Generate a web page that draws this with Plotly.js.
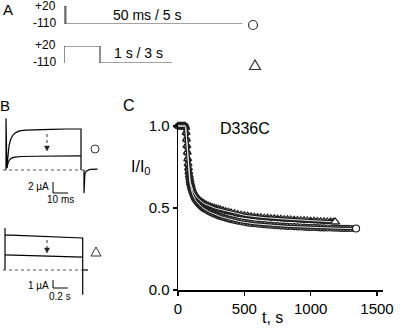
<!DOCTYPE html>
<html><head><meta charset="utf-8">
<script src="https://cdn.plot.ly/plotly-3.0.1.min.js"></script>
<style>html,body{margin:0;padding:0;background:#fff}#chart{width:400px;height:330px}</style>
</head><body><div id="chart"></div>
<script>
// ---------- Panel A: voltage protocols (time in s, voltage in mV) ----------
const protoLevels = ['+20', '-110'];
const proto1T = [0, 0, 0.05, 0.05, 4.95];
const proto1V = [-110, 20, 20, -110, -110];
const proto2T = [0, 0, 1, 1, 3];
const proto2V = [-110, 20, 20, -110, -110];

// ---------- Panel B top: currents, 50 ms pulse (time ms, current µA) ----------
const bTopT1 = [0, 0, 0.6, 1.2, 2, 3, 4.5, 6.5, 9, 13, 20, 30, 40, 50, 50];
const bTopI1 = [0, 9.4, 0.4, 2.8, 4.4, 5.5, 6.3, 6.8, 7.1, 7.25, 7.35, 7.4, 7.45, 7.45, 0];
const bTopT2 = [0.6, 1.5, 2.5, 4, 6, 10, 20, 35, 50];
const bTopI2 = [0.4, 1.4, 1.9, 2.2, 2.35, 2.45, 2.5, 2.55, 2.55];
const bTailT = [52, 52, 52.6, 53.5, 56, 61];
const bTailI = [0, -4.2, -0.7, -0.2, 0.1, 0.15];
const bTopScaleI = 2;   // µA
const bTopScaleT = 10;  // ms

// ---------- Panel B bottom: currents, 1 s pulse (time s, current µA) ----------
const bBotT1 = [0, 0, 0, 1.05, 1.05];
const bBotI1 = [0, 5.25, 4.4, 4.0, -3.1];
const bBotT2 = [0, 1.05];
const bBotI2 = [1.9, 1.6];
const bBotTailT = [1.05, 1.12];
const bBotTailI = [0, 0];
const bBotScaleI = 1;    // µA
const bBotScaleT = 0.2;  // s

// ---------- Panel C: normalized current vs time ----------
const triT = [0,5,10,15,20,25,30,35,40,45,50,55,58,61,64,67,70,73,76,79,82,85,88,91,94,97,100,106,112,118,124,130,140,150,160,170,180,190,200,215,230,245,260,275,290,305,320,340,360,380,400,425,450,475,500,525,550,575,600,625,650,675,700,725,750,775,800,825,850,875,900,925,950,975,1000,1025,1050,1075,1100,1125,1150,1170,1184];
const triY = [1,1,1,1,1,1,1,1,1,1,1,1,0.99,0.96,0.92,0.88,0.84,0.80,0.77,0.745,0.72,0.70,0.685,0.67,0.655,0.645,0.635,0.62,0.605,0.595,0.585,0.578,0.567,0.558,0.55,0.543,0.537,0.531,0.526,0.52,0.514,0.509,0.505,0.501,0.497,0.494,0.491,0.486,0.481,0.477,0.473,0.468,0.463,0.459,0.456,0.453,0.45,0.447,0.445,0.443,0.441,0.44,0.438,0.437,0.435,0.434,0.432,0.431,0.43,0.429,0.427,0.426,0.425,0.424,0.423,0.422,0.421,0.42,0.419,0.418,0.417,0.416,0.415];
const cirT = [0,5,10,15,20,25,30,35,40,45,50,55,58,61,64,67,70,73,76,79,82,85,88,91,94,97,100,106,112,118,124,130,140,150,160,170,180,190,200,215,230,245,260,275,290,305,320,340,360,380,400,425,450,475,500,525,550,575,600,625,650,675,700,725,750,775,800,825,850,875,900,925,950,975,1000,1025,1050,1075,1100,1125,1150,1175,1200,1225,1250,1275,1300,1325,1342];
const cirY = [1,1,1,1,1,1,1,1,1,1,1,1,0.99,0.955,0.915,0.875,0.835,0.795,0.76,0.73,0.705,0.685,0.665,0.65,0.636,0.624,0.613,0.597,0.582,0.57,0.56,0.551,0.539,0.529,0.52,0.512,0.505,0.499,0.493,0.486,0.479,0.473,0.467,0.462,0.457,0.452,0.448,0.443,0.438,0.433,0.429,0.424,0.42,0.416,0.412,0.409,0.406,0.404,0.402,0.4,0.398,0.396,0.395,0.393,0.392,0.39,0.389,0.388,0.387,0.386,0.385,0.384,0.383,0.382,0.381,0.381,0.38,0.379,0.379,0.378,0.378,0.377,0.377,0.376,0.376,0.376,0.375,0.375,0.375];
const cTickVals = [0, 0.5, 1];
const cTickText = ['0.0', '0.5', '1.0'];
const xTickVals = [0, 500, 1000, 1500];

const FONT = 'Liberation Sans, Arial, sans-serif';
const X = p => p / 400;
const Y = p => (330 - p) / 330;
const blk = {color: '#000', width: 1.2};

const traces = [
  {x: proto1T, y: proto1V, xaxis: 'x5', yaxis: 'y5', mode: 'lines', line: {color: '#444', width: 1.2}},
  {x: proto2T, y: proto2V, xaxis: 'x6', yaxis: 'y6', mode: 'lines', line: {color: '#444', width: 1.2}},
  {x: bTopT1, y: bTopI1, xaxis: 'x3', yaxis: 'y3', mode: 'lines', line: blk},
  {x: bTopT2, y: bTopI2, xaxis: 'x3', yaxis: 'y3', mode: 'lines', line: blk},
  {x: bTailT, y: bTailI, xaxis: 'x3', yaxis: 'y3', mode: 'lines', line: blk},
  {x: bBotT1, y: bBotI1, xaxis: 'x4', yaxis: 'y4', mode: 'lines', line: blk},
  {x: bBotT2, y: bBotI2, xaxis: 'x4', yaxis: 'y4', mode: 'lines', line: blk},
  {x: bBotTailT, y: bBotTailI, xaxis: 'x4', yaxis: 'y4', mode: 'lines', line: blk},
  // panel C
  {x: cirT, y: cirY, mode: 'lines', line: {color: '#111', width: 3}, cliponaxis: false},
  {x: triT, y: triY, mode: 'lines', line: {color: '#111', width: 3.5}, cliponaxis: false},
  {x: cirT, y: cirY, mode: 'markers', marker: {symbol: 'circle-open', size: 6, color: '#222', line: {width: 1.2}}, cliponaxis: false},
  {x: triT, y: triY, mode: 'markers', marker: {symbol: 'triangle-up-open', size: 7, color: '#222', line: {width: 1.2}}, cliponaxis: false},
  {x: cirT, y: cirY, mode: 'lines', line: {color: '#e6e6e6', width: 1}, cliponaxis: false},
  {x: triT, y: triY, mode: 'lines', line: {color: '#e6e6e6', width: 1}, cliponaxis: false},
  {x: [cirT[cirT.length-1]], y: [cirY[cirY.length-1]], mode: 'markers', marker: {symbol: 'circle', size: 7, color: '#fff', line: {color: '#222', width: 1.2}}, cliponaxis: false},
  {x: [triT[triT.length-1]], y: [triY[triY.length-1]], mode: 'markers', marker: {symbol: 'triangle-up', size: 8, color: '#fff', line: {color: '#222', width: 1.2}}, cliponaxis: false}
];

const hidden = {visible: false, showgrid: false, zeroline: false, fixedrange: true};
const ann = (text, px, py, size, extra) => Object.assign({text: text, x: X(px), y: Y(py), xref: 'paper', yref: 'paper', showarrow: false, xanchor: 'center', yanchor: 'middle', font: {size: size, family: FONT, color: '#000'}}, extra || {});
const head = (px, py) => ({type: 'path', xref: 'paper', yref: 'paper', path: `M ${X(px - 2.5)} ${Y(py - 5)} L ${X(px + 2.5)} ${Y(py - 5)} L ${X(px)} ${Y(py)} Z`, fillcolor: '#222', line: {color: '#222', width: 0.5}});

const tTop0 = (53 - 6) / 1.5, iTop0 = -23 / 5.5;
const tBot0 = (53 - 5) / 74, iBot0 = -18 / 8;

const layout = {
  width: 400, height: 330, margin: {l: 0, r: 0, t: 0, b: 0},
  paper_bgcolor: '#fff', plot_bgcolor: 'rgba(0,0,0,0)', showlegend: false,
  font: {family: FONT, color: '#000'},
  xaxis: {domain: [X(178), X(383)], range: [0, 1545], anchor: 'y', showline: true, linewidth: 1.5, linecolor: '#000',
    ticks: 'outside', ticklen: 4, tickwidth: 1.5, tickcolor: '#000', tickvals: xTickVals, showgrid: false, zeroline: false,
    tickfont: {size: 15, family: FONT}, fixedrange: true},
  yaxis: {domain: [Y(290), Y(122.7)], range: [0, 1.02], anchor: 'x', showline: true, linewidth: 1.5, linecolor: '#000',
    ticks: 'outside', ticklen: 4, tickwidth: 1.5, tickcolor: '#000', tickvals: cTickVals, ticktext: cTickText, showgrid: false, zeroline: false,
    tickfont: {size: 15, family: FONT}, fixedrange: true},
  xaxis3: Object.assign({domain: [0, 0.25], range: [-4, 62.667], anchor: 'y3'}, hidden),
  yaxis3: Object.assign({domain: [Y(200), Y(110)], range: [-5.4545, 10.909], anchor: 'x3'}, hidden),
  xaxis4: Object.assign({domain: [0, 0.25], range: [-5 / 74, 95 / 74], anchor: 'y4'}, hidden),
  yaxis4: Object.assign({domain: [Y(305), Y(220)], range: [-4.375, 6.25], anchor: 'x4'}, hidden),
  xaxis5: Object.assign({domain: [X(64), X(244)], range: [0, 5], anchor: 'y5'}, hidden),
  yaxis5: Object.assign({domain: [Y(24), Y(6)], range: [-110, 20], anchor: 'x5'}, hidden),
  xaxis6: Object.assign({domain: [X(64), X(244)], range: [0, 5], anchor: 'y6'}, hidden),
  yaxis6: Object.assign({domain: [Y(63), Y(46)], range: [-110, 20], anchor: 'x6'}, hidden),
  shapes: [
    {type: 'circle', xref: 'paper', yref: 'paper', x0: X(248.5), x1: X(257.5), y0: Y(29.5), y1: Y(20.5), line: {color: '#333', width: 1.2}},
    {type: 'path', xref: 'paper', yref: 'paper', path: `M ${X(249.5)} ${Y(69.5)} L ${X(255)} ${Y(60)} L ${X(260.5)} ${Y(69.5)} Z`, line: {color: '#333', width: 1.2}},
    {type: 'circle', xref: 'paper', yref: 'paper', x0: X(91), x1: X(99), y0: Y(153), y1: Y(145), line: {color: '#333', width: 1}},
    {type: 'path', xref: 'paper', yref: 'paper', path: `M ${X(91)} ${Y(256)} L ${X(96)} ${Y(247)} L ${X(101)} ${Y(256)} Z`, line: {color: '#333', width: 1}},
    {type: 'line', xref: 'x3', yref: 'y3', x0: -2, x1: 52.7, y0: 0, y1: 0, line: {color: '#555', width: 1, dash: 'dot'}},
    {type: 'line', xref: 'x4', yref: 'y4', x0: -2 / 74, x1: 83 / 74, y0: 0, y1: 0, line: {color: '#555', width: 1, dash: 'dot'}},
    {type: 'line', xref: 'paper', yref: 'paper', x0: X(47), x1: X(47), y0: Y(134), y1: Y(146), line: {color: '#333', width: 1, dash: 'dot'}},
    {type: 'line', xref: 'paper', yref: 'paper', x0: X(47), x1: X(47), y0: Y(240), y1: Y(249), line: {color: '#333', width: 1, dash: 'dot'}},
    head(47, 151),
    head(47, 253),
    {type: 'path', xref: 'x3', yref: 'y3', path: `M ${tTop0} ${iTop0 + bTopScaleI} L ${tTop0} ${iTop0} L ${tTop0 + bTopScaleT} ${iTop0}`, line: {color: '#000', width: 1}},
    {type: 'path', xref: 'x4', yref: 'y4', path: `M ${tBot0} ${iBot0 + bBotScaleI} L ${tBot0} ${iBot0} L ${tBot0 + bBotScaleT} ${iBot0}`, line: {color: '#000', width: 1}}
  ],
  annotations: [
    ann('A', 8, 10, 15),
    ann(protoLevels[0], 58, 6, 12, {xanchor: 'right'}),
    ann(protoLevels[1], 58, 23, 12, {xanchor: 'right'}),
    ann(protoLevels[0], 58, 45, 12, {xanchor: 'right'}),
    ann(protoLevels[1], 58, 62, 12, {xanchor: 'right'}),
    ann('50 ms / 5 s', 147, 15, 14),
    ann('1 s / 3 s', 138, 53, 14),
    ann('B', 5, 105, 15),
    ann('2 µA', 38, 186, 10),
    ann('10 ms', 60, 199, 10),
    ann('1 µA', 38, 285, 10),
    ann('0.2 s', 60, 296, 10),
    ann('C', 129, 106, 16),
    ann('D336C', 245, 128, 16),
    ann('I/I<sub>0</sub>', 141, 167, 16),
    ann('t, s', 272, 317, 16)
  ]
};

Plotly.newPlot('chart', traces, layout, {staticPlot: true, displayModeBar: false});
</script>
</body></html>
